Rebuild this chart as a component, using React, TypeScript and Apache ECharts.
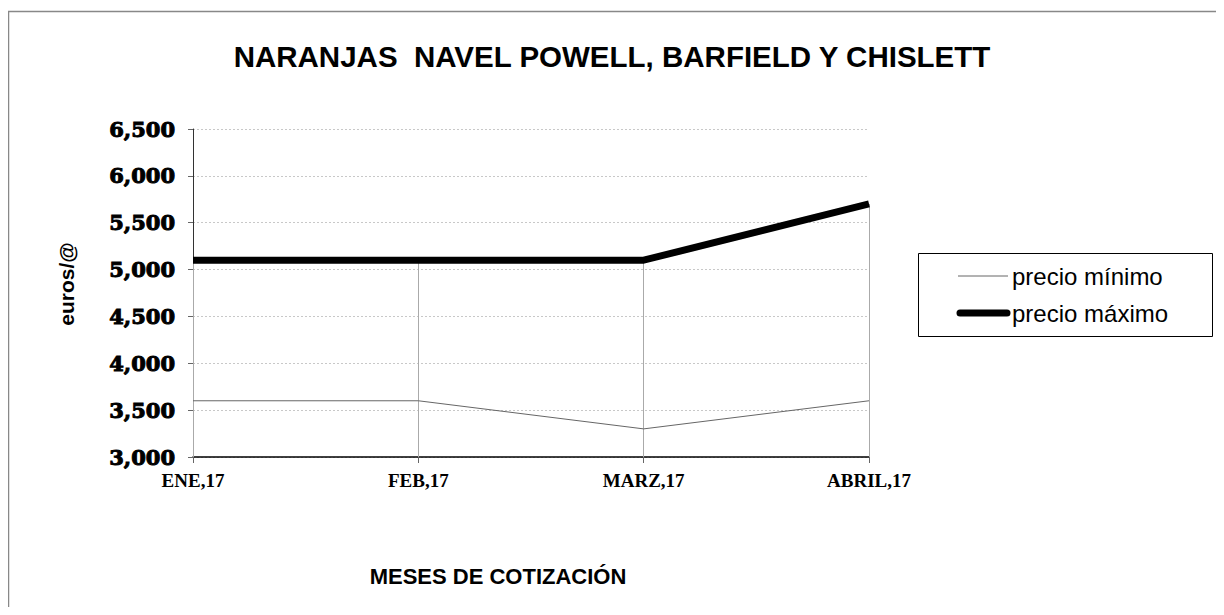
import React, { useEffect, useRef } from "react";
import * as echarts from "echarts";

const categories = ["ENE,17", "FEB,17", "MARZ,17", "ABRIL,17"];
const precioMinimo = [3.6, 3.6, 3.3, 3.6];
const precioMaximo = [5.1, 5.1, 5.1, 5.7];
const seriesNames = ["precio mínimo", "precio máximo"];
const yMin = 3;
const yMax = 6.5;
const yStep = 0.5;

export default function App() {
  const ref = useRef<HTMLDivElement>(null);
  useEffect(() => {
    if (!ref.current) return;
    const chart = echarts.init(ref.current, null, { renderer: "svg" });
    const dropLines = categories.map((c, i) => [
      { coord: [c, precioMaximo[i]] },
      { coord: [c, yMin] },
    ]);
    const sans = "Liberation Sans, Arial, sans-serif";
    chart.setOption({
      animation: false,
      backgroundColor: "#ffffff",
      title: {
        text: "NARANJAS  NAVEL POWELL, BARFIELD Y CHISLETT",
        left: "center",
        top: 28,
        textStyle: {
          fontFamily: sans,
          fontWeight: "bold",
          fontSize: 29.5,
          color: "#000",
        },
      },
      grid: { left: 185, top: 121, right: 347, bottom: 150 },
      xAxis: {
        type: "category",
        data: categories,
        boundaryGap: false,
        axisLine: { lineStyle: { color: "#000", width: 1.5 } },
        axisTick: { show: true, length: 6, lineStyle: { color: "#666" } },
        axisLabel: {
          fontFamily: "Liberation Serif, Times New Roman, serif",
          fontWeight: "bold",
          fontSize: 19,
          color: "#000",
          margin: 14,
        },
        splitLine: { show: false },
      },
      yAxis: {
        type: "value",
        min: yMin,
        max: yMax,
        interval: yStep,
        axisLine: { show: true, lineStyle: { color: "#333", width: 1 } },
        axisTick: { show: true, length: 5, lineStyle: { color: "#666" } },
        axisLabel: {
          fontFamily: "DejaVu Serif, serif",
          fontWeight: "bold",
          fontSize: 21,
          color: "#000",
          textBorderColor: "#000",
          textBorderWidth: 1,
          margin: 18,
          formatter: (v: number) => v.toFixed(3).replace(".", ","),
        },
        splitLine: {
          show: true,
          lineStyle: { color: "#c8c8c8", type: [2, 2], width: 1 },
        },
      },
      graphic: [
        {
          type: "rect",
          shape: { x: 0.5, y: 3.5, width: 1400, height: 800 },
          style: { fill: "none", stroke: "#888", lineWidth: 1.5 },
          silent: true,
          z: -1,
        },
        {
          type: "rect",
          shape: { x: 910.5, y: 245.5, width: 294, height: 83 },
          style: { fill: "none", stroke: "#000", lineWidth: 1 },
          silent: true,
        },
        {
          type: "line",
          shape: { x1: 950, y1: 268, x2: 1000, y2: 268 },
          style: { stroke: "#666", lineWidth: 1 },
          silent: true,
        },
        {
          type: "text",
          x: 1004,
          y: 268,
          style: {
            text: seriesNames[0],
            fontFamily: sans,
            fontSize: 24,
            fill: "#000",
            align: "left",
            verticalAlign: "middle",
          },
        },
        {
          type: "line",
          shape: { x1: 952, y1: 305, x2: 999, y2: 305 },
          style: { stroke: "#000", lineWidth: 7, lineCap: "round" },
          silent: true,
        },
        {
          type: "text",
          x: 1004,
          y: 305,
          style: {
            text: seriesNames[1],
            fontFamily: sans,
            fontSize: 24,
            fill: "#000",
            align: "left",
            verticalAlign: "middle",
          },
        },
        {
          type: "text",
          x: 58,
          y: 276,
          rotation: Math.PI / 2,
          style: {
            text: "euros/@",
            fontFamily: sans,
            fontWeight: "bold",
            fontSize: 21,
            fill: "#000",
            align: "center",
            verticalAlign: "middle",
          },
        },
        {
          type: "text",
          x: 490,
          y: 568,
          style: {
            text: "MESES DE COTIZACIÓN",
            fontFamily: sans,
            fontWeight: "bold",
            fontSize: 22,
            fill: "#000",
            align: "center",
            verticalAlign: "middle",
          },
        },
      ],
      series: [
        {
          name: seriesNames[0],
          type: "line",
          data: precioMinimo,
          symbol: "none",
          lineStyle: { color: "#666", width: 1 },
          itemStyle: { color: "#666" },
          z: 3,
        },
        {
          name: seriesNames[1],
          type: "line",
          data: precioMaximo,
          symbol: "none",
          lineStyle: { color: "#000", width: 7 },
          itemStyle: { color: "#000" },
          z: 4,
          markLine: {
            silent: true,
            symbol: "none",
            label: { show: false },
            lineStyle: { color: "#aaa", width: 1, type: "solid" },
            data: dropLines,
            z: 1,
          },
        },
      ],
    });
    return () => chart.dispose();
  }, []);
  return <div ref={ref} style={{ width: 1208, height: 599 }} />;
}
